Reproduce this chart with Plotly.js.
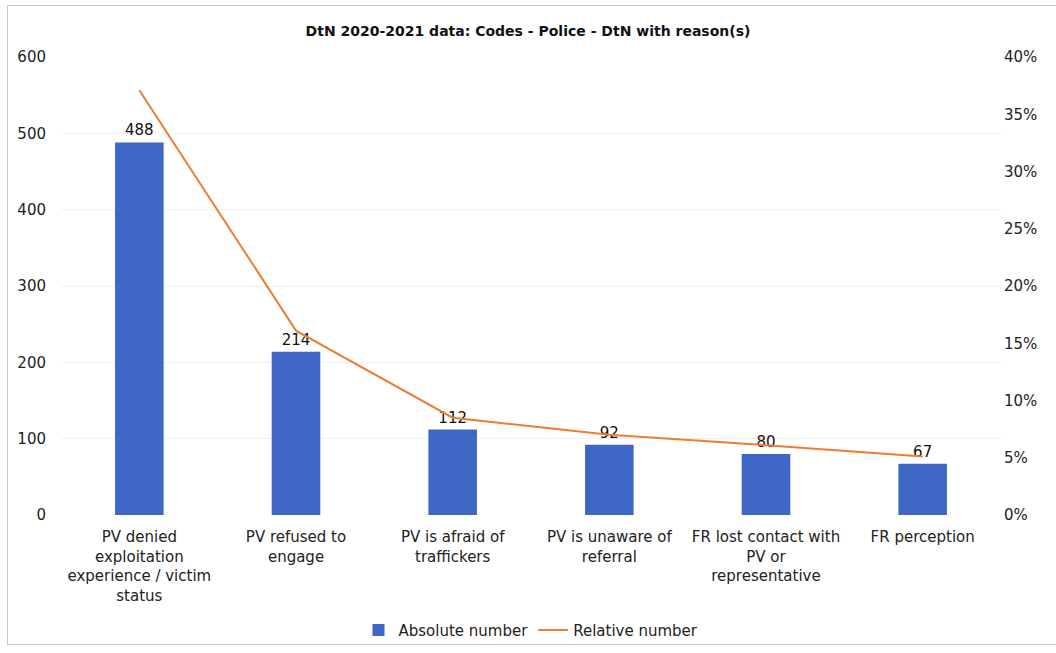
<!DOCTYPE html>
<html>
<head>
<meta charset="utf-8">
<script src="https://cdn.plot.ly/plotly-3.0.1.min.js"></script>
<style>
html,body{margin:0;padding:0;background:#fff;}
#wrap{position:relative;width:1056px;height:653px;}
#chart{width:1056px;height:653px;}
#frame{position:absolute;left:7px;top:5px;width:1049px;height:640px;border:1px solid #c8c8c8;border-right:none;box-sizing:border-box;pointer-events:none;}
</style>
</head>
<body>
<div id="wrap"><div id="chart"></div><div id="frame"></div></div>
<script>
const categories = [
  "PV denied<br>exploitation<br>experience / victim<br>status",
  "PV refused to<br>engage",
  "PV is afraid of<br>traffickers",
  "PV is unaware of<br>referral",
  "FR lost contact with<br>PV or<br>representative",
  "FR perception"
];
const absoluteNumber = [488, 214, 112, 92, 80, 67];
const relativeNumber = [0.371, 0.161, 0.085, 0.070, 0.061, 0.051];
const leftTicks = [0, 100, 200, 300, 400, 500, 600];
const rightTicks = [0, 0.05, 0.10, 0.15, 0.20, 0.25, 0.30, 0.35, 0.40];

const font = "DejaVu Sans, Liberation Sans, Arial, sans-serif";

const traces = [
  {
    type: "bar",
    name: "Absolute number",
    x: categories,
    y: absoluteNumber,
    text: absoluteNumber.map(String),
    textposition: "outside",
    cliponaxis: false,
    textfont: {family: font, size: 15, color: "#111"},
    marker: {color: "#3F67C6"},
    yaxis: "y"
  },
  {
    type: "scatter",
    mode: "lines",
    name: "Relative number",
    x: categories,
    y: relativeNumber,
    line: {color: "#ED7D31", width: 2},
    yaxis: "y2"
  }
];

const layout = {
  width: 1056,
  height: 653,
  margin: {l: 61, r: 55, t: 57, b: 138},
  paper_bgcolor: "#fff",
  plot_bgcolor: "#fff",
  font: {family: font, size: 15, color: "#222"},
  title: {
    text: "<b>DtN 2020-2021 data: Codes - Police - DtN with reason(s)</b>",
    font: {family: font, size: 14, color: "#111"},
    x: 0.5, xanchor: "center", y: 0.953, yanchor: "middle"
  },
  bargap: 0.69,
  showlegend: true,
  legend: {
    orientation: "h", x: 0.5, xanchor: "center",
    yref: "container", y: 0.035, yanchor: "middle",
    font: {family: font, size: 15, color: "#222"},
    itemwidth: 30
  },
  xaxis: {
    type: "category",
    automargin: false,
    tickfont: {family: font, size: 15, color: "#222"},
    showline: false, ticks: "", showgrid: false, ticklabelstandoff: 11
  },
  yaxis: {
    range: [0, 600],
    automargin: false,
    tickvals: leftTicks,
    tickfont: {family: font, size: 15, color: "#222"},
    showgrid: true, gridcolor: "#f0f0f0", gridwidth: 1,
    zeroline: false, showline: false, ticks: "", ticklabelstandoff: 14
  },
  yaxis2: {
    overlaying: "y", side: "right",
    automargin: false,
    range: [0, 0.4],
    tickvals: rightTicks,
    tickformat: ".0%",
    tickfont: {family: font, size: 15, color: "#222"},
    showgrid: false, zeroline: false, showline: false, ticks: "", ticklabelstandoff: 2
  }
};

Plotly.newPlot("chart", traces, layout, {displayModeBar: false, staticPlot: true});
</script>
</body>
</html>
